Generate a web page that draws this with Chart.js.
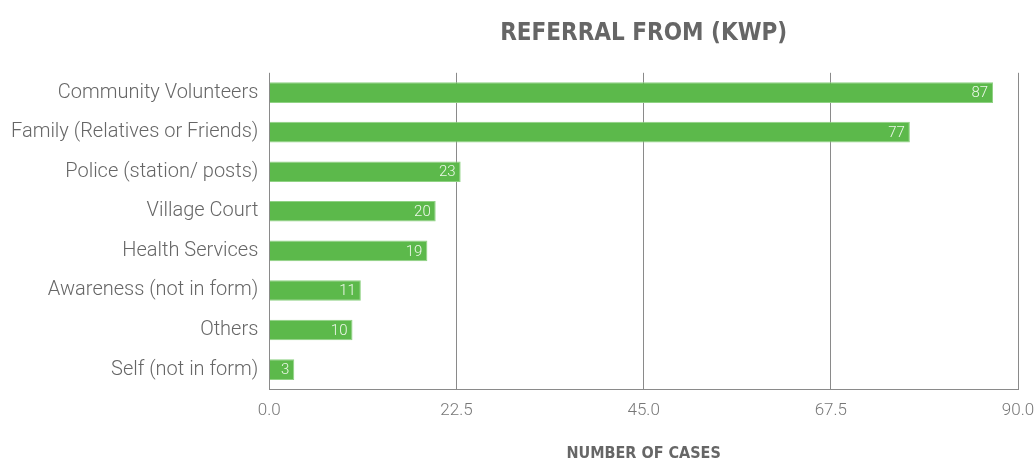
<!DOCTYPE html>
<html>
<head>
<meta charset="utf-8">
<script src="https://cdn.jsdelivr.net/npm/chart.js@4"></script>
<style>
  html, body { margin: 0; padding: 0; background: #fff; }
  #wrap { width: 1036px; height: 461px; }
</style>
</head>
<body>
<div id="wrap"><canvas id="chart"></canvas></div>
<script>
// Referral sources and case counts
const categories = [
  'Community Volunteers',
  'Family (Relatives or Friends)',
  'Police (station/ posts)',
  'Village Court',
  'Health Services',
  'Awareness (not in form)',
  'Others',
  'Self (not in form)'
];
const caseCounts = [87, 77, 23, 20, 19, 11, 10, 3];
const xTicks = [0, 22.5, 45, 67.5, 90];

// Draw the value at the inside end of each bar
const barLabels = {
  id: 'barLabels',
  afterDatasetsDraw(chart) {
    const ctx = chart.ctx;
    const meta = chart.getDatasetMeta(0);
    ctx.save();
    ctx.font = '300 15px Roboto';
    ctx.fillStyle = '#eef8ea';
    ctx.textAlign = 'right';
    ctx.textBaseline = 'middle';
    meta.data.forEach((bar, i) => {
      ctx.fillText(String(caseCounts[i]), bar.x - 5, bar.y + 1);
    });
    ctx.restore();
  }
};

new Chart(document.getElementById('chart'), {
  type: 'bar',
  data: {
    labels: categories,
    datasets: [{
      data: caseCounts,
      backgroundColor: '#5cb94b',
      borderColor: '#8fd283',
      borderWidth: 1,
      borderSkipped: 'left',
      categoryPercentage: 1,
      barPercentage: 0.52
    }]
  },
  options: {
    indexAxis: 'y',
    responsive: true,
    maintainAspectRatio: false,
    animation: false,
    layout: { padding: { left: 0, right: 18, top: 6, bottom: -2 } },
    plugins: {
      legend: { display: false },
      tooltip: { enabled: false },
      title: {
        display: true,
        text: 'REFERRAL FROM (KWP)',
        fullSize: false,
        color: '#666',
        font: { family: 'DejaVu Sans Condensed', size: 24, weight: 'bold' },
        padding: { top: 13, bottom: 25 }
      }
    },
    scales: {
      x: {
        min: 0,
        max: 90,
        afterBuildTicks: axis => { axis.ticks = xTicks.map(v => ({ value: v })); },
        // let the last tick label hang over the right edge like the original
        afterFit: axis => { axis.paddingRight = 0; },
        grid: { color: '#8a8a8a', lineWidth: 1, drawTicks: false },
        border: { color: '#8a8a8a' },
        ticks: {
          color: '#777',
          padding: 11,
          font: { family: 'Roboto', size: 17, weight: '300' },
          callback: v => Number(v).toFixed(1)
        },
        title: {
          display: true,
          text: 'NUMBER OF CASES',
          color: '#666',
          font: { family: 'DejaVu Sans Condensed', size: 16, weight: 'bold' },
          padding: { top: 12, bottom: 0 }
        }
      },
      y: {
        grid: { display: false, drawTicks: false },
        border: { display: false },
        ticks: {
          color: '#666',
          padding: 11,
          font: { family: 'Roboto', size: 20, weight: '300' }
        }
      }
    }
  },
  plugins: [barLabels]
});
</script>
</body>
</html>
